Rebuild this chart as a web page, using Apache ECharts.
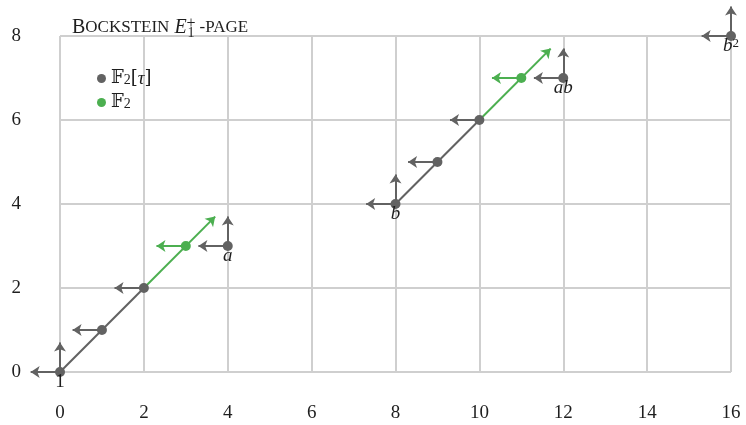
<!DOCTYPE html>
<html><head><meta charset="utf-8">
<script src="https://cdn.jsdelivr.net/npm/echarts@6/dist/echarts.min.js"></script>
<style>html,body{margin:0;padding:0;background:#fff}#c{width:746px;height:425px}</style>
</head><body><div id="c"></div>
<script>
// ---- data ----
const xTicks = [0, 2, 4, 6, 8, 10, 12, 14, 16];
const yTicks = [0, 2, 4, 6, 8];
const grayPts = [[0,0],[1,1],[2,2],[4,3],[8,4],[9,5],[10,6],[12,7],[16,8]];
const grayLabels = ['1','','','a','b','','','ab','b2'];
const greenPts = [[3,3],[11,7]];
const grayLines = [[[0,0],[2,2]], [[8,4],[10,6]]];
const greenArrows = [[[2,2],[3.7,3.7]], [[10,6],[11.7,7.7]]];
const leftArrowLen = 0.7;
const leftArrowGray = [[0,0],[1,1],[2,2],[4,3],[8,4],[9,5],[10,6],[12,7],[16,8]];
const leftArrowGreen = [[3,3],[11,7]];
const upArrowLen = 0.7;
const upArrowGray = [[0,0],[4,3],[8,4],[12,7],[16,8]];

const GRAY = '#626262', GREEN = '#4caf50';
const SERIF = '"Liberation Serif","DejaVu Serif",serif';
const MATH = '"DejaVu Serif","Liberation Serif",serif';
const INK = '#1e1e1e';

const chart = echarts.init(document.getElementById('c'), null, {renderer:'canvas'});

function lineItems(arr){ return arr.map(c => ({coords: c})); }
const leftItems = (pts) => pts.map(p => ({coords: [p, [p[0]-leftArrowLen, p[1]]]}));
const upItems = (pts) => pts.map(p => ({coords: [p, [p[0], p[1]+upArrowLen]]}));

const labelRich = {
  i: {fontFamily: SERIF, fontStyle: 'italic', fontSize: 19, color: INK, lineHeight: 18},
  n: {fontFamily: SERIF, fontSize: 19, color: INK, lineHeight: 18},
  sup: {fontFamily: SERIF, fontSize: 13, color: INK, verticalAlign: 'top', lineHeight: 12}
};
function fmtLabel(s){
  if (!s) return '';
  if (s === '1') return '{n|1}';
  if (s === 'b2') return '{i|b}{sup|2}';
  return '{i|' + s + '}';
}

const option = {
  animation: false,
  backgroundColor: '#fff',
  title: {
    left: 72, top: 16, padding: 0,
    text: '{big|B}{sm|OCKSTEIN} {e|E}{sup|+}{sub|1}{sm|-PAGE}',
    textStyle: {
      fontWeight: 'normal',
      rich: {
        big: {fontFamily: SERIF, fontWeight:'normal', fontSize: 20, color:INK, lineHeight: 24},
        sm: {fontFamily: SERIF, fontWeight:'normal', fontSize: 17, color:INK, lineHeight: 24},
        e: {fontFamily: SERIF, fontWeight:'normal', fontStyle:'italic', fontSize: 20, color:INK, lineHeight: 24},
        sup: {fontFamily: SERIF, fontWeight:'normal', fontSize: 16, color:INK, width: 0, verticalAlign:'top', lineHeight: 12},
        sub: {fontFamily: SERIF, fontWeight:'normal', fontSize: 14, color:INK, verticalAlign:'bottom', lineHeight: 10, padding:[0,5,0,1]}
      }
    }
  },
  legend: {
    left: 92, top: 63, orient: 'vertical', itemGap: 4,
    icon: 'circle', itemWidth: 9, itemHeight: 9,
    data: ['gray', 'green'],
    formatter: function(name){
      return name === 'gray' ? '{f|\uD835\uDD3D}{s|2}{f|[}{t|τ}{f|]}' : '{f|\uD835\uDD3D}{s|2}';
    },
    textStyle: {
      rich: {
        f: {fontFamily: MATH, fontSize: 18, color:INK, lineHeight: 17},
        t: {fontFamily: SERIF, fontStyle:'italic', fontSize: 19, color:INK, lineHeight: 17},
        s: {fontFamily: SERIF, fontSize: 14, color:INK, verticalAlign:'bottom', lineHeight: 17, padding:[5,0,0,0]}
      }
    }
  },
  grid: {left: 60, right: 15, top: 36, bottom: 53},
  xAxis: {
    type: 'value', min: xTicks[0], max: xTicks[xTicks.length-1], interval: 2,
    axisLine: {show: false}, axisTick: {show: false},
    axisLabel: {margin: 32, fontFamily: SERIF, fontSize: 19, color: INK},
    splitLine: {show: true, lineStyle: {color: '#cfcfcf', width: 2}}
  },
  yAxis: {
    type: 'value', min: yTicks[0], max: yTicks[yTicks.length-1], interval: 2,
    axisLine: {show: false}, axisTick: {show: false},
    axisLabel: {margin: 39, fontFamily: SERIF, fontSize: 19, color: INK},
    splitLine: {show: true, lineStyle: {color: '#cfcfcf', width: 2}}
  },
  series: [
    {type:'lines', coordinateSystem:'cartesian2d', clip:false, z:3,
     lineStyle:{color:GRAY, width:2, opacity:1}, symbol:['none','none'],
     data: lineItems(grayLines)},
    {type:'lines', coordinateSystem:'cartesian2d', clip:false, z:3,
     lineStyle:{color:GREEN, width:2, opacity:1}, symbol:['none','arrow'], symbolSize:9,
     data: lineItems(greenArrows)},
    {type:'lines', coordinateSystem:'cartesian2d', clip:false, z:3,
     lineStyle:{color:GRAY, width:2, opacity:1}, symbol:['none','arrow'], symbolSize:9,
     data: leftItems(leftArrowGray)},
    {type:'lines', coordinateSystem:'cartesian2d', clip:false, z:3,
     lineStyle:{color:GREEN, width:2, opacity:1}, symbol:['none','arrow'], symbolSize:9,
     data: leftItems(leftArrowGreen)},
    {type:'lines', coordinateSystem:'cartesian2d', clip:false, z:3,
     lineStyle:{color:GRAY, width:2, opacity:1}, symbol:['none','arrow'], symbolSize:9,
     data: upItems(upArrowGray)},
    {name:'gray', type:'scatter', clip:false, z:5, symbolSize:10,
     itemStyle:{color:GRAY, opacity:1},
     label:{show:true, position:'bottom', distance:-4, rich: labelRich,
       formatter: p => fmtLabel(grayLabels[p.dataIndex])},
     data: grayPts},
    {name:'green', type:'scatter', clip:false, z:5, symbolSize:10,
     itemStyle:{color:GREEN, opacity:1},
     data: greenPts}
  ]
};
chart.setOption(option);
</script></body></html>
